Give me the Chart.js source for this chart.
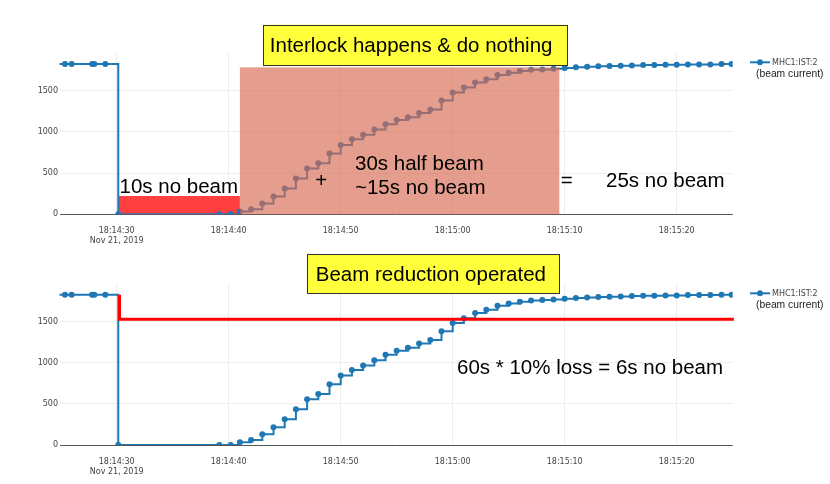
<!DOCTYPE html>
<html><head><meta charset="utf-8">
<script src="https://cdn.jsdelivr.net/npm/chart.js@4.4.0/dist/chart.umd.min.js"></script>
<style>
html,body{margin:0;padding:0;background:#fff;}
#wrap{position:relative;width:830px;height:484px;overflow:hidden;}
canvas{position:absolute;left:0;}
</style>
</head><body>
<div id="wrap">
<canvas id="c1" width="830" height="254" style="top:0px"></canvas>
<canvas id="c2" width="830" height="242" style="top:242px"></canvas>
</div>
<script>
// ---------------- data ----------------
const seriesLabel = 'MHC1:IST:2';
const seriesNote = '(beam current)';
// time in seconds relative to 18:14:30 (Nov 21, 2019)
const timeSec = [-6.0, -4.62, -4.02, -2.2, -2.0, -1.02, 0.14, 9.16, 10.18,
  11, 12, 13, 14, 15, 16, 17, 18, 19, 20, 21, 22, 23, 24, 25, 26, 27, 28, 29, 30,
  31, 32, 33, 34, 35, 36, 37, 38, 39, 40, 41, 42, 43, 44, 45, 46, 47, 48, 49, 50,
  51, 52, 53, 54, 54.9];
const beamCurrent = [1825, 1825, 1825, 1825, 1825, 1825, 0, 0, 0,
  33, 61, 130, 215, 313, 434, 556, 620, 738, 843, 912, 965, 1030, 1095, 1144, 1180, 1232, 1274, 1383, 1481,
  1541, 1602, 1642, 1691, 1719, 1740, 1755, 1760, 1768, 1776, 1785, 1792, 1797, 1800, 1804, 1809, 1813, 1813, 1816, 1816,
  1821, 1821, 1821, 1825, 1825];
const xTickSec = [0, 10, 20, 30, 40, 50];
const xTickLabels = ['18:14:30', '18:14:40', '18:14:50', '18:15:00', '18:15:10', '18:15:20'];
const xTickDate = 'Nov 21, 2019';
const yTickValues = [0, 500, 1000, 1500];
// beam-reduction envelope (bottom panel)
const reductionTimeSec = [0.25, 0.25, 55.1, 55.1];
const reductionLevel = [1825, 1529, 1529, 1825];
// shaded periods (top panel)
const noBeamSpan = {t0: 0.14, t1: 11.0, v0: 0, v1: 222};
const interlockSpan = {t0: 11.0, t1: 39.52, v0: 0, v1: 1785};

// ---------------- style / layout ----------------
const BLUE = '#1f77b4';
const X_MIN = -5.107, X_MAX = 55.0, Y_MIN = 0, Y_MAX = 1963;
const BIG = '20.5px "Liberation Sans", Arial, sans-serif';
const TICKFONT = {family: '"DejaVu Sans", Verdana, sans-serif', size: 8, lineHeight: 1.25};

function pts(xs, ys) { return xs.map((x, i) => ({x: x, y: ys[i]})); }

function scalesCfg(xAxisH) {
  return {
    x: {
      type: 'linear', min: X_MIN, max: X_MAX,
      afterBuildTicks: s => { s.ticks = xTickSec.map(v => ({value: v})); },
      afterFit: s => { s.height = xAxisH; },
      grid: {color: '#eee', lineWidth: 1, drawTicks: false},
      border: {display: false},
      ticks: {
        font: TICKFONT, color: '#444', padding: 11.7, maxRotation: 0, autoSkip: false,
        callback: (v) => {
          const i = xTickSec.indexOf(v);
          const lab = i >= 0 ? xTickLabels[i] : '';
          return i === 0 ? [lab, xTickDate] : lab;
        }
      }
    },
    y: {
      type: 'linear', min: Y_MIN, max: Y_MAX,
      afterBuildTicks: s => { s.ticks = yTickValues.map(v => ({value: v})); },
      afterFit: s => { s.width = 59.5; },
      grid: {color: c => (c.tick && c.tick.value === 0) ? '#555' : '#eee', lineWidth: 1, drawTicks: false},
      border: {display: false},
      ticks: {font: TICKFONT, color: '#444', padding: 1.5, callback: v => String(v)}
    }
  };
}

function spanRect(chart, sp) {
  const x = chart.scales.x, y = chart.scales.y;
  const l = x.getPixelForValue(sp.t0), r = x.getPixelForValue(sp.t1);
  const t = y.getPixelForValue(sp.v1), b = y.getPixelForValue(sp.v0);
  return [l, t, r - l, b - t];
}

function text(ctx, s, x, y, font, color) {
  ctx.save();
  ctx.font = font || BIG;
  ctx.fillStyle = color || '#000';
  ctx.textAlign = 'left';
  ctx.textBaseline = 'alphabetic';
  ctx.fillText(s, x, y);
  ctx.restore();
}

function titleBox(ctx, s, l, t, r, b, tx, ty) {
  ctx.save();
  ctx.fillStyle = '#ffff3c';
  ctx.fillRect(l, t, r - l, b - t);
  ctx.strokeStyle = '#333';
  ctx.lineWidth = 1;
  ctx.strokeRect(Math.round(l) + 0.5, Math.round(t) + 0.5, Math.round(r - l), Math.round(b - t));
  ctx.restore();
  text(ctx, s, tx, ty);
}

function legend(ctx, chart, y) {
  const ds = chart.data.datasets.find(d => d.label === seriesLabel);
  ctx.save();
  ctx.strokeStyle = BLUE; ctx.lineWidth = 2;
  ctx.beginPath(); ctx.moveTo(750, y); ctx.lineTo(770, y); ctx.stroke();
  ctx.fillStyle = BLUE;
  ctx.beginPath(); ctx.arc(760, y, 3, 0, Math.PI * 2); ctx.fill();
  ctx.font = '8px "DejaVu Sans", Verdana, sans-serif';
  ctx.fillStyle = '#444'; ctx.textBaseline = 'middle'; ctx.textAlign = 'left';
  ctx.fillText(ds.label, 772, y + 0.5);
  ctx.font = '10.3px "Liberation Sans", Arial, sans-serif';
  ctx.fillStyle = '#222';
  ctx.fillText(seriesNote, 756, y + 12);
  ctx.restore();
}

const topPlugin = {
  id: 'topAnnot',
  beforeDatasetsDraw(chart) {
    const ctx = chart.ctx;
    ctx.save();
    ctx.fillStyle = 'rgb(255,64,64)';
    ctx.fillRect(...spanRect(chart, noBeamSpan));
    ctx.restore();
  },
  afterDatasetsDraw(chart) {
    const ctx = chart.ctx;
    ctx.save();
    ctx.fillStyle = 'rgba(215,106,81,0.65)';
    ctx.fillRect(...spanRect(chart, interlockSpan));
    ctx.restore();
  },
  afterDraw(chart) {
    const ctx = chart.ctx;
    text(ctx, '10s no beam', 119.5, 192.7);
    text(ctx, '+', 315.3, 187);
    text(ctx, '30s half beam', 355, 170);
    text(ctx, '~15s no beam', 355, 194.3);
    text(ctx, '=', 560.7, 187);
    text(ctx, '25s no beam', 606, 186.7);
    titleBox(ctx, 'Interlock happens & do nothing', 263, 24.7, 567, 65, 269.8, 51.7);
    legend(ctx, chart, 62.3);
  }
};

const bottomPlugin = {
  id: 'bottomAnnot',
  afterDraw(chart) {
    const ctx = chart.ctx;
    text(ctx, '60s * 10% loss = 6s no beam', 457, 131.5);
    titleBox(ctx, 'Beam reduction operated', 307, 12, 559, 51, 315.8, 38.7);
    legend(ctx, chart, 51.3);
  }
};

const common = {
  responsive: false, animation: false, events: [],
  plugins: {legend: {display: false}, tooltip: {enabled: false}},
};

const blueDs = () => ({
  label: seriesLabel, data: pts(timeSec, beamCurrent), stepped: true,
  borderColor: BLUE, borderWidth: 2, backgroundColor: BLUE,
  pointRadius: 3, pointBackgroundColor: BLUE, pointBorderWidth: 0, fill: false
});

new Chart(document.getElementById('c1'), {
  type: 'line',
  data: {datasets: [blueDs()]},
  options: Object.assign({}, common, {
    layout: {padding: {top: 52.7, right: 97.3, left: 0, bottom: 0}},
    scales: scalesCfg(254 - 214.3)
  }),
  plugins: [topPlugin]
});

new Chart(document.getElementById('c2'), {
  type: 'line',
  data: {datasets: [
    {label: 'reduction', data: pts(reductionTimeSec, reductionLevel), borderColor: '#ff0000',
     borderWidth: 3, pointRadius: 0, fill: false, clip: false, tension: 0},
    blueDs()
  ]},
  options: Object.assign({}, common, {
    layout: {padding: {top: 41.4, right: 97.3, left: 0, bottom: 0}},
    scales: scalesCfg(39)
  }),
  plugins: [bottomPlugin]
});
</script>
</body></html>
